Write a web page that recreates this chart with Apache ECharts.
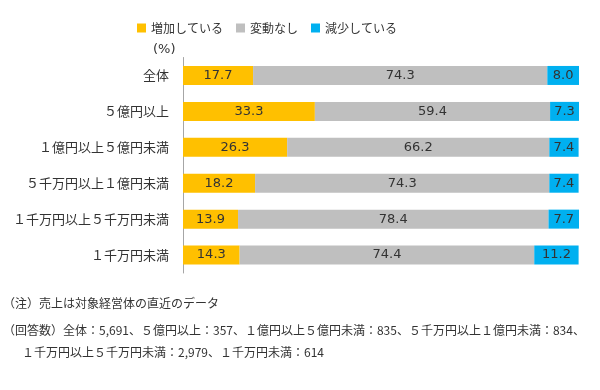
<!DOCTYPE html>
<html><head><meta charset="utf-8">
<script src="https://cdn.jsdelivr.net/npm/echarts@6/dist/echarts.min.js"></script>
<style>html,body{margin:0;padding:0;background:#fff}#c{width:600px;height:390px}</style>
</head><body><div id="c"></div>
<script>
const categories = ['全体','５億円以上','１億円以上５億円未満','５千万円以上１億円未満','１千万円以上５千万円未満','１千万円未満'];
const seriesNames = ['増加している','変動なし','減少している'];
const increase = [17.7, 33.3, 26.3, 18.2, 13.9, 14.3];
const nochange = [74.3, 59.4, 66.2, 74.3, 78.4, 74.4];
const decrease = [8.0, 7.3, 7.4, 7.4, 7.7, 11.2];
const colors = ['#FFC000','#BFBFBF','#00B0F0'];
const unitLabel = '(%)';
const note1 = '（注）売上は対象経営体の直近のデータ';
const note2 = '（回答数）全体：5,691、５億円以上：357、１億円以上５億円未満：835、５千万円以上１億円未満：834、';
const note3 = '１千万円以上５千万円未満：2,979、１千万円未満：614';

const jp = '"Noto Sans CJK JP", sans-serif';
const num = '"DejaVu Sans", sans-serif';
const chart = echarts.init(document.getElementById('c'), null, {renderer:'canvas'});
const mk = (name, data, i) => ({
  name, type:'bar', stack:'t', data, barWidth:19,
  itemStyle:{color:colors[i]},
  label:{show:true, position:'inside', color:'#333', fontFamily:num, fontSize:13,
    formatter:p=>p.value.toFixed(1)},
  emphasis:{disabled:true}
});
chart.setOption({
  animation:false,
  legend:{top:17, left:132, itemWidth:9, itemHeight:9, itemGap:13,
    icon:'rect', textStyle:{fontFamily:jp, fontSize:12, color:'#333'}, data:seriesNames},
  grid:{left:183, right:21, top:57.5, height:215.5, containLabel:false},
  xAxis:{type:'value', min:0, max:100, show:false},
  yAxis:{type:'category', inverse:true, data:categories,
    axisLine:{show:true, lineStyle:{color:'#A6A6A6'}},
    axisTick:{show:false},
    axisLabel:{fontFamily:jp, fontSize:13, color:'#333', margin:14}},
  series:[mk(seriesNames[0], increase, 0), mk(seriesNames[1], nochange, 1), mk(seriesNames[2], decrease, 2)],
  graphic:[
    {type:'text', left:153, top:43, style:{text:unitLabel, font:'13px '+num, fill:'#333'}},
    {type:'text', left:3, top:297, style:{text:note1, font:'12px '+jp, fill:'#333'}},
    {type:'text', left:3, top:324, style:{text:note2, font:'12px '+jp, fill:'#333'}},
    {type:'text', left:22, top:346, style:{text:note3, font:'12px '+jp, fill:'#333'}}
  ]
});
</script></body></html>
